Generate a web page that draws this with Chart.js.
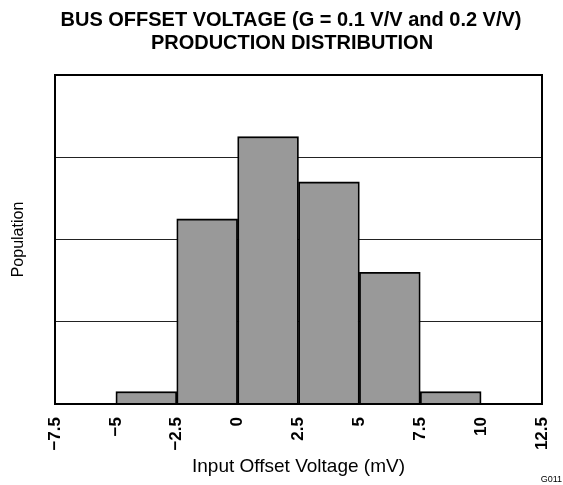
<!DOCTYPE html>
<html>
<head>
<meta charset="utf-8">
<script src="https://cdn.jsdelivr.net/npm/chart.js@4/dist/chart.umd.min.js"></script>
<style>
  html, body { margin: 0; padding: 0; background: #fff; }
  #wrap { width: 563px; height: 485px; position: relative; }
</style>
</head>
<body>
<div id="wrap"><canvas id="myChart"></canvas></div>
<script>
// histogram bins (centres in mV) and relative population
var binCenters = [-3.75, -1.25, 1.25, 3.75, 6.25, 8.75];
var population = [0.15, 2.25, 3.25, 2.7, 1.6, 0.15];

var titleLines = ['BUS OFFSET VOLTAGE (G = 0.1 V/V and 0.2 V/V)', 'PRODUCTION DISTRIBUTION'];
var xTitle = 'Input Offset Voltage (mV)';
var yTitle = 'Population';
var figId = 'G011';

var FONT = 'Arial, "Liberation Sans", Helvetica, sans-serif';

const points = binCenters.map((c, i) => ({ x: c, y: population[i] }));

const extras = {
    id: 'extras',
    afterDatasetsDraw(chart) {
        const c = chart.ctx;
        const a = chart.chartArea;
        c.save();
        // plot frame
        c.strokeStyle = '#000';
        c.lineWidth = 2;
        c.strokeRect(a.left, a.top, a.right - a.left, a.bottom - a.top);
        c.restore();
    },
    afterDraw(chart) {
        const c = chart.ctx;
        c.save();
        c.fillStyle = '#000';
        c.textAlign = 'center';
        c.textBaseline = 'alphabetic';
        c.font = 'bold 20px ' + FONT;
        c.fillText(titleLines[0], 291, 26);
        c.fillText(titleLines[1], 292, 49);
        c.font = '9px ' + FONT;
        c.textAlign = 'right';
        c.fillText(figId, 562, 482);
        c.restore();
    }
};

var ctx = document.getElementById('myChart').getContext('2d');
var myChart = new Chart(ctx, {
    type: 'bar',
    data: {
        datasets: [{
            data: points,
            backgroundColor: '#999999',
            borderColor: '#000000',
            borderWidth: 1.8,
            barPercentage: 1,
            categoryPercentage: 1
        }]
    },
    options: {
        responsive: true,
        maintainAspectRatio: false,
        animation: false,
        layout: { padding: { top: 75, right: 21, bottom: 0, left: 0 } },
        plugins: {
            legend: { display: false },
            tooltip: { enabled: false }
        },
        scales: {
            x: {
                type: 'linear',
                min: -7.5,
                max: 12.5,
                offset: false,
                afterFit: (s) => { s.height = 81; s.paddingLeft = 0; s.paddingRight = 0; },
                grid: { display: false, drawTicks: false },
                border: { display: false },
                ticks: {
                    stepSize: 2.5,
                    minRotation: 90,
                    maxRotation: 90,
                    padding: 13,
                    color: '#000',
                    font: { family: FONT, size: 17, weight: 'bold' },
                    callback: function (value) {
                        return String(value).replace('-', '\u2212');
                    }
                },
                title: {
                    display: true,
                    text: xTitle,
                    color: '#000',
                    font: { family: FONT, size: 19 },
                    padding: { top: 0, bottom: 7 }
                }
            },
            y: {
                min: 0,
                max: 4,
                afterFit: (s) => { s.width = 55; },
                grid: { color: '#222', lineWidth: 1, drawTicks: false },
                border: { display: false },
                ticks: { display: false, stepSize: 1 },
                title: {
                    display: true,
                    text: yTitle,
                    color: '#000',
                    font: { family: FONT, size: 16 },
                    padding: { top: 9, bottom: 0 }
                }
            }
        }
    },
    plugins: [extras]
});
</script>
</body>
</html>
